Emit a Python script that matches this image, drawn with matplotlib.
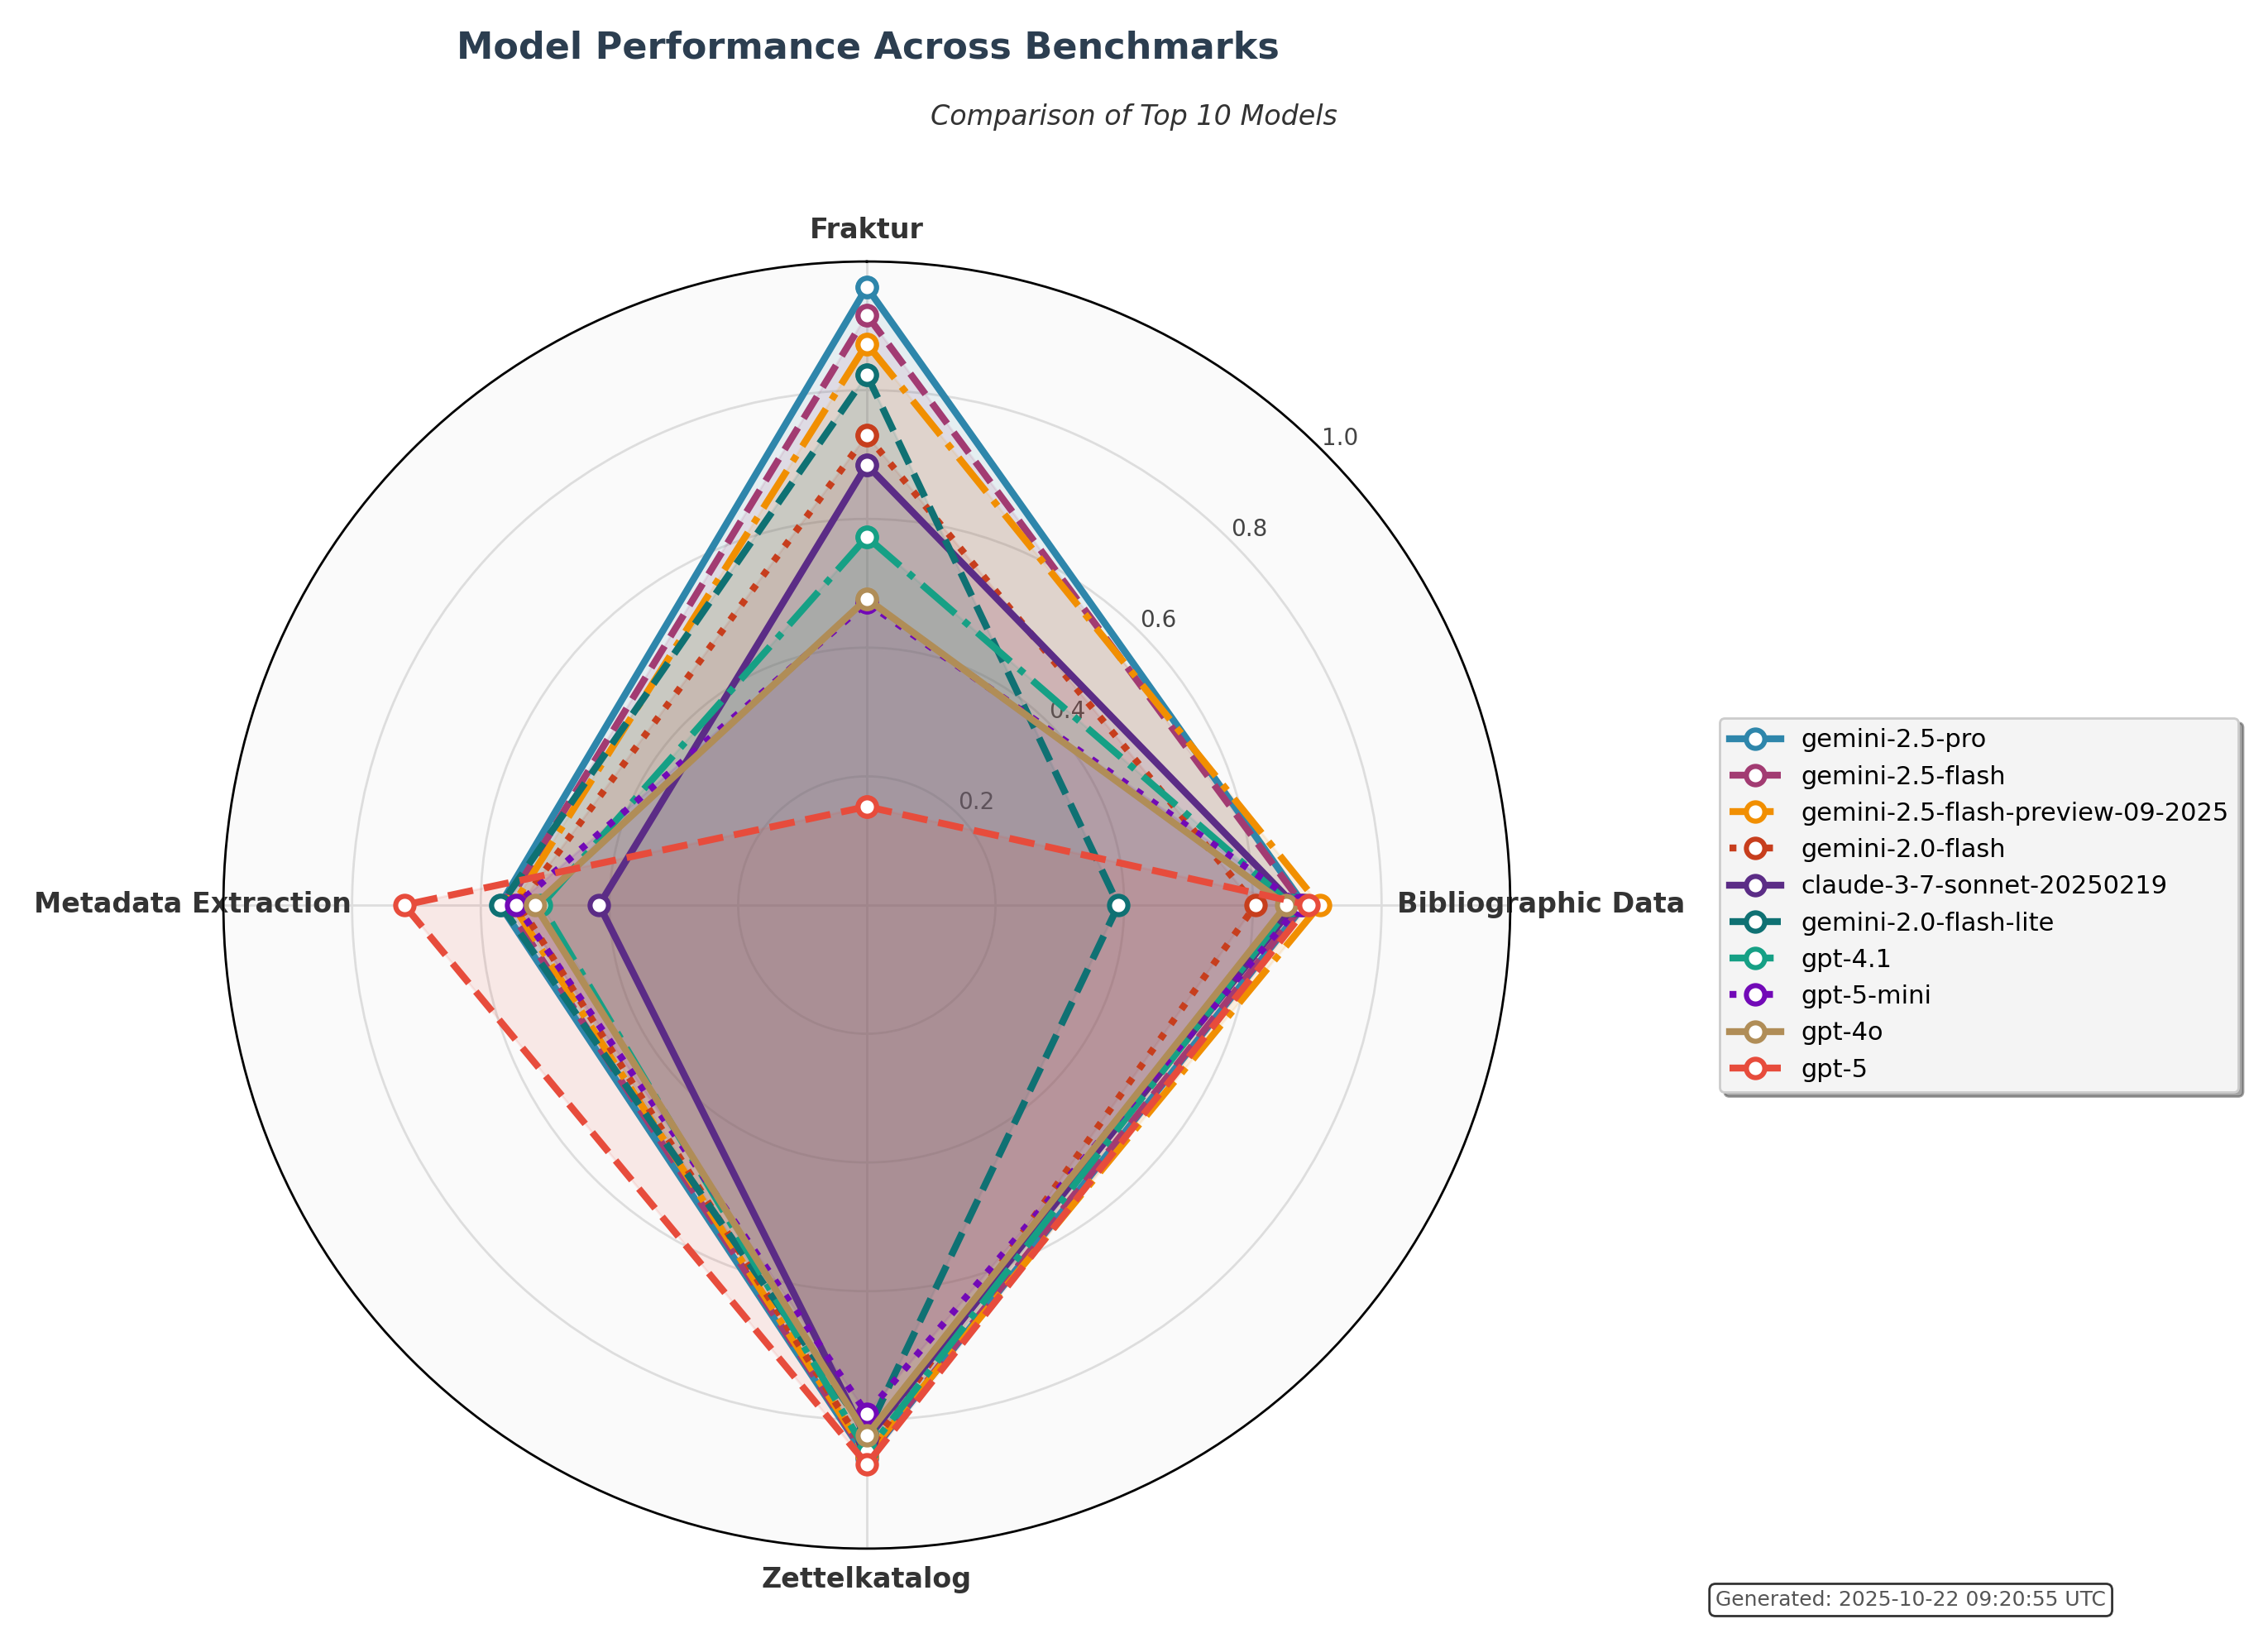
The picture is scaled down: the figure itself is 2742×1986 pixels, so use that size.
import numpy as np
import matplotlib
matplotlib.use("Agg")
import matplotlib.pyplot as plt

categories = ["Fraktur", "Bibliographic Data", "Zettelkatalog", "Metadata Extraction"]
models = ["gemini-2.5-pro", "gemini-2.5-flash", "gemini-2.5-flash-preview-09-2025",
          "gemini-2.0-flash", "claude-3-7-sonnet-20250219", "gemini-2.0-flash-lite",
          "gpt-4.1", "gpt-5-mini", "gpt-4o", "gpt-5"]

# values per model: [Fraktur, Bibliographic Data, Zettelkatalog, Metadata Extraction]
gemini_25_pro = [0.960, 0.680, 0.860, 0.570]
gemini_25_flash = [0.917, 0.678, 0.858, 0.560]
gemini_25_flash_preview = [0.872, 0.704, 0.855, 0.550]
gemini_20_flash = [0.730, 0.604, 0.850, 0.540]
claude_37_sonnet = [0.684, 0.665, 0.830, 0.416]
gemini_20_flash_lite = [0.824, 0.391, 0.820, 0.569]
gpt_41 = [0.572, 0.660, 0.850, 0.506]
gpt_5_mini = [0.470, 0.674, 0.790, 0.545]
gpt_4o = [0.476, 0.652, 0.824, 0.516]
gpt_5 = [0.153, 0.687, 0.869, 0.719]

series = [gemini_25_pro, gemini_25_flash, gemini_25_flash_preview, gemini_20_flash,
          claude_37_sonnet, gemini_20_flash_lite, gpt_41, gpt_5_mini, gpt_4o, gpt_5]

colors = ["#2E86AB", "#A23B72", "#F18F01", "#C73E1D", "#5B2C86",
          "#0F7173", "#16A085", "#7209B7", "#B08D57", "#E74C3C"]
linestyles = ["-", "--", "-.", ":"]

r_ticks = [0.2, 0.4, 0.6, 0.8, 1.0]
r_tick_labels = ["0.2", "0.4", "0.6", "0.8", "1.0"]

fig = plt.figure(figsize=(13.71, 9.93), dpi=200)
ax = fig.add_axes([0.0985, 0.0574, 0.5674, 0.7835], projection="polar")
ax.set_facecolor("#FAFAFA")
ax.set_theta_offset(np.pi / 2)
ax.set_theta_direction(-1)
ax.set_axisbelow(True)

angles = np.linspace(0, 2 * np.pi, len(categories), endpoint=False).tolist()
angles_closed = angles + angles[:1]

for i, (name, vals) in enumerate(zip(models, series)):
    v = list(vals) + vals[:1]
    ax.plot(angles_closed, v, color=colors[i], linestyle=linestyles[i % 4],
            linewidth=3, marker="o", markersize=8, markerfacecolor="white",
            markeredgecolor=colors[i], markeredgewidth=2.2, label=name, zorder=3)
    ax.fill(angles_closed, v, color=colors[i], alpha=0.1, zorder=2)

ax.set_xticks(angles)
ax.set_xticklabels(categories, fontsize=12, fontweight="bold", color="#333333")
ax.tick_params(axis="x", pad=3)
ax.set_ylim(0, 1.0)
ax.set_yticks(r_ticks)
ax.set_yticklabels(r_tick_labels, fontsize=10, color="#444444")
ax.set_rlabel_position(45)
ax.grid(True, color="#DDDDDD", linewidth=1)
ax.spines["polar"].set_color("black")
ax.spines["polar"].set_linewidth(1.0)

leg = ax.legend(loc="center left", bbox_to_anchor=(1.153, 0.5), fontsize=11,
                frameon=True, fancybox=True, shadow=True, facecolor="#F4F4F4",
                edgecolor="#CCCCCC", framealpha=1.0)

fig.text(0.3826, 0.9708, "Model Performance Across Benchmarks", ha="center", va="center",
         fontsize=16, fontweight="bold", color="#2C3E50")
fig.text(0.5, 0.9285, "Comparison of Top 10 Models", ha="center", va="center",
         fontsize=12, style="italic", color="#333333")
fig.text(0.8425, 0.0262, "Generated: 2025-10-22 09:20:55 UTC", ha="center", va="center",
         fontsize=9, color="#555555",
         bbox=dict(boxstyle="round,pad=0.3", facecolor="white", edgecolor="#333333", linewidth=1))

fig.savefig("out.png", dpi=200)
